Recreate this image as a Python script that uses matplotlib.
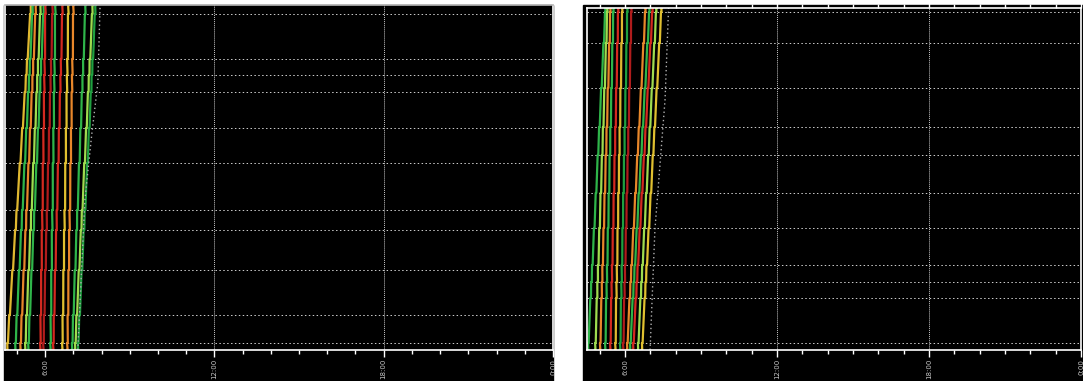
import matplotlib.pyplot as plt
from matplotlib.patches import Rectangle
from matplotlib.ticker import MultipleLocator, FixedLocator

# ---- left diagram ----
left_stations = [7, 35, 80, 120, 140, 187, 222, 258, 275, 291, 336]
left_dep = [4.66, 4.94, 5.12, 5.29, 5.40, 5.82, 5.93, 6.18, 6.28, 6.60, 6.78, 6.95, 7.06, 7.16]
left_arr = [5.47, 5.54, 5.65, 5.82, 5.93, 6.00, 6.25, 6.35, 6.60, 6.81, 6.99, 7.41, 7.66, 7.76]
left_colors = ['#e0b830', '#2fb54a', '#e8872a', '#9fdc4f', '#2fb54a', '#d42a20', '#b01c1c',
               '#2fb54a', '#d42a20', '#e0c030', '#e8872a', '#2fb54a', '#9fdc4f', '#1fa040']
left_limit_t = [7.16, 7.41, 7.66, 7.87, 7.95]
left_limit_km = [0, 150, 217, 267, 345]

# ---- right diagram ----
right_stations = [7, 52, 68, 85, 122, 157, 195, 223, 262, 307, 338]
right_dep = [4.54, 4.82, 5.01, 5.21, 5.41, 5.61, 5.80, 5.92, 6.08, 6.20, 6.32, 6.51, 6.67]
right_arr = [5.21, 5.29, 5.41, 5.53, 5.72, 5.88, 6.08, 6.24, 6.79, 6.95, 7.07, 7.22, 7.42]
right_colors = ['#2fb54a', '#9fdc4f', '#e8872a', '#2fb54a', '#d42a20', '#e0b830', '#1fa040',
                '#b01c1c', '#e8872a', '#2fb54a', '#d42a20', '#9fdc4f', '#e0c030']
right_limit_t = [6.99, 7.18, 7.58, 7.72]
right_limit_km = [0, 120, 250, 342]

tick_hours = [6, 12, 18, 24]
tick_labels = ['6:00', '12:00', '18:00', '0:00']
dwell = 0.025


def draw_panel(ax, stations, dep, arr, colors, lim_t, lim_km, xmin, ytop):
    ax.set_facecolor('black')
    lo, hi = stations[0], stations[-1]
    path = [0] + stations + [ytop]
    for d, a, c in zip(dep, arr, colors):
        xs, ys = [], []
        for s in path:
            t = d + (a - d) * (s - lo) / (hi - lo)
            xs += [t, t + dwell]
            ys += [s, s]
        ax.plot(xs, ys, color=c, lw=1.6)
    ax.plot(lim_t, lim_km, color='#b0b0b0', lw=1.0, ls=(0, (1, 2)))
    for s in stations:
        ax.axhline(s, color='#d0d0d0', lw=0.7, ls=(0, (1.5, 2.5)), zorder=0)
    for h in tick_hours[1:3]:
        ax.axvline(h, color='#c8c8c8', lw=0.7, ls=(0, (1, 1)), zorder=0)
    ax.set_xlim(xmin, 24)
    ax.set_ylim(0, ytop)
    ax.set_yticks([])
    ax.xaxis.set_major_locator(FixedLocator(tick_hours))
    ax.xaxis.set_minor_locator(MultipleLocator(1))
    ax.set_xticklabels(tick_labels, rotation=90, fontsize=5, color='#c8c8c8')
    ax.tick_params(axis='x', which='major', length=5, width=1, color='white', pad=1.5)
    ax.tick_params(axis='x', which='minor', length=3, width=1, color='white')
    for sp in ax.spines.values():
        sp.set_color('white')
        sp.set_linewidth(1.2)


fig = plt.figure(figsize=(10.83, 3.81), dpi=100)
fig.patch.set_facecolor('white')
# black strips behind the panels
fig.add_artist(Rectangle((4 / 1083, 0), 549 / 1083, 1 - 5 / 381,
                         transform=fig.transFigure, color='black', zorder=0))
fig.add_artist(Rectangle((583 / 1083, 0), 500 / 1083, 1 - 5 / 381,
                         transform=fig.transFigure, color='black', zorder=0))

ax1 = fig.add_axes([5 / 1083, 31 / 381, 548 / 1083, 345 / 381])
draw_panel(ax1, left_stations, left_dep, left_arr, left_colors,
           left_limit_t, left_limit_km, 4.58, 345)
ax1.spines['top'].set_color('#b8b8b8')

ax2 = fig.add_axes([587 / 1083, 31 / 381, 494 / 1083, 342 / 381])
draw_panel(ax2, right_stations, right_dep, right_arr, right_colors,
           right_limit_t, right_limit_km, 4.5, 342)
ax2.tick_params(axis='x', which='both', top=True, direction='out')

fig.savefig('out.png', dpi=100, facecolor=fig.get_facecolor())
